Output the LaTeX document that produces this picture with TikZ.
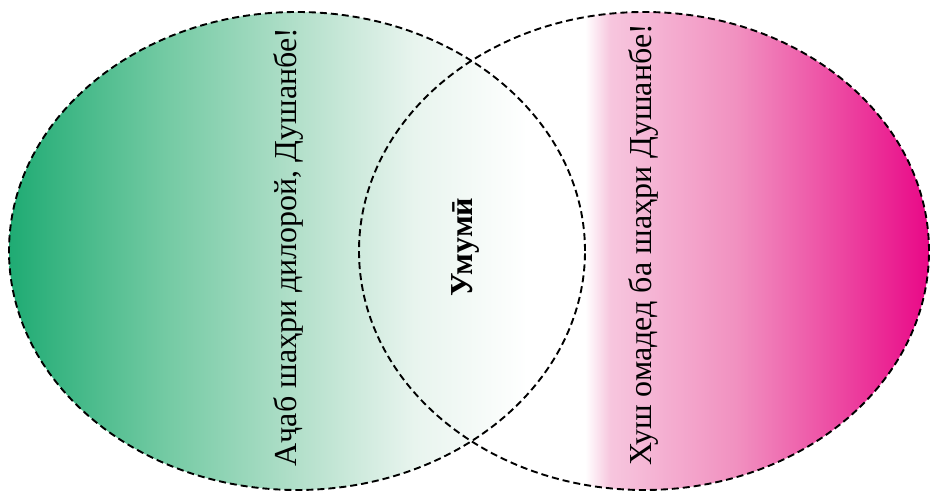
\documentclass[tikz,border=0pt]{standalone}
\usepackage{fontspec}
\setmainfont{Liberation Serif}
\usepackage{xcolor}
\usepackage{tikz}
\definecolor{greenA}{RGB}{31, 171, 115}
\definecolor{greenB}{RGB}{115, 202, 163}
\definecolor{greenC}{RGB}{180, 224, 203}
\definecolor{greenD}{RGB}{232, 244, 238}
\definecolor{pinkA}{RGB}{247, 198, 222}
\definecolor{pinkB}{RGB}{241, 145, 192}
\definecolor{pinkC}{RGB}{233, 8, 135}
\pgfdeclarehorizontalshading{greenfade}{100bp}{color(0bp)=(greenA); color(25bp)=(greenA);
  color(38.5bp)=(greenB); color(50.3bp)=(greenC); color(60.2bp)=(greenD); color(70bp)=(white); color(100bp)=(white)}
\pgfdeclarehorizontalshading{pinkfade}{100bp}{color(0bp)=(white); color(44.8bp)=(white);
  color(47bp)=(pinkA); color(58bp)=(pinkB); color(75bp)=(pinkC); color(100bp)=(pinkC)}
\tikzset{
  setline/.style={black, line width=1.9pt, dash pattern=on 7pt off 4pt},
  setlabel/.style={rotate=90, font=\fontsize{32}{36}\selectfont},
}

\begin{document}
\begin{tikzpicture}[x=1pt,y=1pt]
\useasboundingbox (0,0) rectangle (930,494);
% right set first, left set on top of it
\begin{scope}
\clip (644,243) ellipse [x radius=285pt, y radius=239pt];
\shade[shading=pinkfade] (360,0) rectangle (929,494);
\end{scope}
\begin{scope}
\clip (297,243) ellipse [x radius=288pt, y radius=239pt];
\shade[shading=greenfade] (9,0) rectangle (585,494);
\end{scope}
\draw[setline] (297,243) ellipse [x radius=288pt, y radius=239pt];
\draw[setline] (644,243) ellipse [x radius=285pt, y radius=239pt];
\node[setlabel] (lovely) at (288,247) {Аҷаб шаҳри дилорой, Душанбе!};
\node[setlabel] (welcome) at (643,249) {Хуш омадед ба шаҳри Душанбе!};
\node[setlabel, font=\fontsize{32}{36}\selectfont\bfseries] (common) at (465,247) {Умумӣ};
\end{tikzpicture}
\end{document}
